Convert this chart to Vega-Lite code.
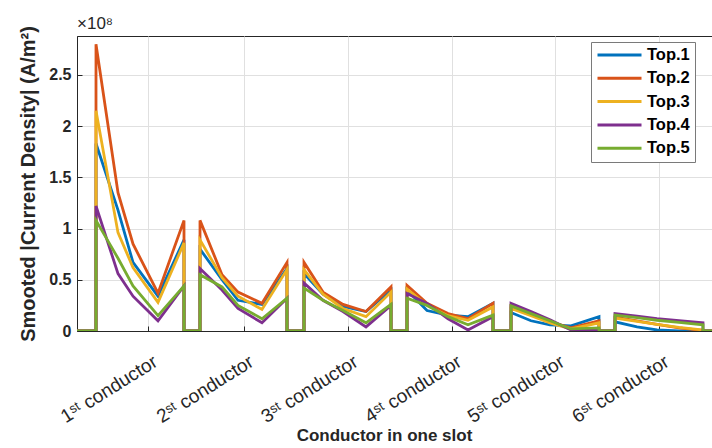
{
  "$schema": "https://vega.github.io/schema/vega-lite/v6.json",
  "width": 635,
  "height": 295,
  "autosize": {"type": "none"},
  "padding": {"left": 77, "top": 36, "right": 0, "bottom": 117},
  "background": "white",
  "title": {"text": "×10⁸", "anchor": "start", "frame": "group", "fontSize": 17, "fontWeight": "normal", "color": "#262626", "offset": -10, "font": "Liberation Sans"},
  "config": {
    "font": "Liberation Sans",
    "view": {"stroke": "#262626", "strokeWidth": 1},
    "axis": {"gridColor": "#e0e0e0", "gridWidth": 1, "domainColor": "#262626", "tickColor": "#262626", "labelColor": "#262626", "titleColor": "#262626"}
  },
  "data": {"values": [
    {"s":"Top.1","x":0,"v":0},
    {"s":"Top.1","x":19,"v":0},{"s":"Top.1","x":19,"v":1.83},{"s":"Top.1","x":41,"v":1.18},{"s":"Top.1","x":56,"v":0.67},{"s":"Top.1","x":81,"v":0.34},{"s":"Top.1","x":107,"v":0.89},{"s":"Top.1","x":107,"v":0},
    {"s":"Top.1","x":123,"v":0},{"s":"Top.1","x":123,"v":0.80},{"s":"Top.1","x":145,"v":0.50},{"s":"Top.1","x":161,"v":0.30},{"s":"Top.1","x":185,"v":0.26},{"s":"Top.1","x":210,"v":0.61},{"s":"Top.1","x":210,"v":0},
    {"s":"Top.1","x":227,"v":0},{"s":"Top.1","x":227,"v":0.56},{"s":"Top.1","x":246,"v":0.36},{"s":"Top.1","x":266,"v":0.24},{"s":"Top.1","x":289,"v":0.19},{"s":"Top.1","x":314,"v":0.40},{"s":"Top.1","x":314,"v":0},
    {"s":"Top.1","x":330,"v":0},{"s":"Top.1","x":330,"v":0.40},{"s":"Top.1","x":350,"v":0.20},{"s":"Top.1","x":371,"v":0.155},{"s":"Top.1","x":391,"v":0.14},{"s":"Top.1","x":416,"v":0.27},{"s":"Top.1","x":416,"v":0},
    {"s":"Top.1","x":434,"v":0},{"s":"Top.1","x":434,"v":0.18},{"s":"Top.1","x":454,"v":0.10},{"s":"Top.1","x":473,"v":0.06},{"s":"Top.1","x":494,"v":0.05},{"s":"Top.1","x":522,"v":0.14},{"s":"Top.1","x":522,"v":0},
    {"s":"Top.1","x":538,"v":0},{"s":"Top.1","x":538,"v":0.09},{"s":"Top.1","x":560,"v":0.04},{"s":"Top.1","x":580,"v":0.01},{"s":"Top.1","x":602,"v":0.0},{"s":"Top.1","x":626,"v":0.0},{"s":"Top.1","x":626,"v":0},
    {"s":"Top.1","x":635,"v":0},

    {"s":"Top.2","x":0,"v":0},
    {"s":"Top.2","x":19,"v":0},{"s":"Top.2","x":19,"v":2.80},{"s":"Top.2","x":41,"v":1.35},{"s":"Top.2","x":56,"v":0.85},{"s":"Top.2","x":81,"v":0.37},{"s":"Top.2","x":107,"v":1.08},{"s":"Top.2","x":107,"v":0},
    {"s":"Top.2","x":123,"v":0},{"s":"Top.2","x":123,"v":1.08},{"s":"Top.2","x":145,"v":0.55},{"s":"Top.2","x":161,"v":0.38},{"s":"Top.2","x":185,"v":0.27},{"s":"Top.2","x":210,"v":0.67},{"s":"Top.2","x":210,"v":0},
    {"s":"Top.2","x":227,"v":0},{"s":"Top.2","x":227,"v":0.67},{"s":"Top.2","x":246,"v":0.38},{"s":"Top.2","x":266,"v":0.26},{"s":"Top.2","x":289,"v":0.19},{"s":"Top.2","x":314,"v":0.43},{"s":"Top.2","x":314,"v":0},
    {"s":"Top.2","x":330,"v":0},{"s":"Top.2","x":330,"v":0.445},{"s":"Top.2","x":350,"v":0.27},{"s":"Top.2","x":371,"v":0.17},{"s":"Top.2","x":391,"v":0.12},{"s":"Top.2","x":416,"v":0.27},{"s":"Top.2","x":416,"v":0},
    {"s":"Top.2","x":434,"v":0},{"s":"Top.2","x":434,"v":0.24},{"s":"Top.2","x":454,"v":0.16},{"s":"Top.2","x":473,"v":0.09},{"s":"Top.2","x":494,"v":0.03},{"s":"Top.2","x":522,"v":0.10},{"s":"Top.2","x":522,"v":0},
    {"s":"Top.2","x":538,"v":0},{"s":"Top.2","x":538,"v":0.135},{"s":"Top.2","x":560,"v":0.10},{"s":"Top.2","x":580,"v":0.065},{"s":"Top.2","x":602,"v":0.03},{"s":"Top.2","x":626,"v":0.005},{"s":"Top.2","x":626,"v":0},
    {"s":"Top.2","x":635,"v":0},

    {"s":"Top.3","x":0,"v":0},
    {"s":"Top.3","x":19,"v":0},{"s":"Top.3","x":19,"v":2.15},{"s":"Top.3","x":41,"v":0.96},{"s":"Top.3","x":56,"v":0.62},{"s":"Top.3","x":81,"v":0.28},{"s":"Top.3","x":107,"v":0.86},{"s":"Top.3","x":107,"v":0},
    {"s":"Top.3","x":123,"v":0},{"s":"Top.3","x":123,"v":0.89},{"s":"Top.3","x":145,"v":0.52},{"s":"Top.3","x":161,"v":0.34},{"s":"Top.3","x":185,"v":0.21},{"s":"Top.3","x":210,"v":0.60},{"s":"Top.3","x":210,"v":0},
    {"s":"Top.3","x":227,"v":0},{"s":"Top.3","x":227,"v":0.60},{"s":"Top.3","x":246,"v":0.36},{"s":"Top.3","x":266,"v":0.22},{"s":"Top.3","x":289,"v":0.14},{"s":"Top.3","x":314,"v":0.38},{"s":"Top.3","x":314,"v":0},
    {"s":"Top.3","x":330,"v":0},{"s":"Top.3","x":330,"v":0.41},{"s":"Top.3","x":350,"v":0.25},{"s":"Top.3","x":371,"v":0.15},{"s":"Top.3","x":391,"v":0.105},{"s":"Top.3","x":416,"v":0.235},{"s":"Top.3","x":416,"v":0},
    {"s":"Top.3","x":434,"v":0},{"s":"Top.3","x":434,"v":0.22},{"s":"Top.3","x":454,"v":0.15},{"s":"Top.3","x":473,"v":0.08},{"s":"Top.3","x":494,"v":0.02},{"s":"Top.3","x":522,"v":0.08},{"s":"Top.3","x":522,"v":0},
    {"s":"Top.3","x":538,"v":0},{"s":"Top.3","x":538,"v":0.125},{"s":"Top.3","x":560,"v":0.095},{"s":"Top.3","x":580,"v":0.065},{"s":"Top.3","x":602,"v":0.035},{"s":"Top.3","x":626,"v":0.01},{"s":"Top.3","x":626,"v":0},
    {"s":"Top.3","x":635,"v":0},

    {"s":"Top.4","x":0,"v":0},
    {"s":"Top.4","x":19,"v":0},{"s":"Top.4","x":19,"v":1.22},{"s":"Top.4","x":41,"v":0.56},{"s":"Top.4","x":56,"v":0.34},{"s":"Top.4","x":81,"v":0.10},{"s":"Top.4","x":107,"v":0.44},{"s":"Top.4","x":107,"v":0},
    {"s":"Top.4","x":123,"v":0},{"s":"Top.4","x":123,"v":0.61},{"s":"Top.4","x":145,"v":0.40},{"s":"Top.4","x":161,"v":0.22},{"s":"Top.4","x":185,"v":0.08},{"s":"Top.4","x":210,"v":0.32},{"s":"Top.4","x":210,"v":0},
    {"s":"Top.4","x":227,"v":0},{"s":"Top.4","x":227,"v":0.47},{"s":"Top.4","x":246,"v":0.30},{"s":"Top.4","x":266,"v":0.19},{"s":"Top.4","x":289,"v":0.04},{"s":"Top.4","x":314,"v":0.25},{"s":"Top.4","x":314,"v":0},
    {"s":"Top.4","x":330,"v":0},{"s":"Top.4","x":330,"v":0.365},{"s":"Top.4","x":350,"v":0.27},{"s":"Top.4","x":371,"v":0.12},{"s":"Top.4","x":391,"v":0.01},{"s":"Top.4","x":416,"v":0.14},{"s":"Top.4","x":416,"v":0},
    {"s":"Top.4","x":434,"v":0},{"s":"Top.4","x":434,"v":0.27},{"s":"Top.4","x":454,"v":0.19},{"s":"Top.4","x":473,"v":0.11},{"s":"Top.4","x":494,"v":0.01},{"s":"Top.4","x":522,"v":0.01},{"s":"Top.4","x":522,"v":0},
    {"s":"Top.4","x":538,"v":0},{"s":"Top.4","x":538,"v":0.17},{"s":"Top.4","x":560,"v":0.145},{"s":"Top.4","x":580,"v":0.12},{"s":"Top.4","x":602,"v":0.10},{"s":"Top.4","x":626,"v":0.08},{"s":"Top.4","x":626,"v":0},
    {"s":"Top.4","x":635,"v":0},

    {"s":"Top.5","x":0,"v":0},
    {"s":"Top.5","x":19,"v":0},{"s":"Top.5","x":19,"v":1.08},{"s":"Top.5","x":41,"v":0.71},{"s":"Top.5","x":56,"v":0.44},{"s":"Top.5","x":81,"v":0.15},{"s":"Top.5","x":107,"v":0.44},{"s":"Top.5","x":107,"v":0},
    {"s":"Top.5","x":123,"v":0},{"s":"Top.5","x":123,"v":0.55},{"s":"Top.5","x":145,"v":0.43},{"s":"Top.5","x":161,"v":0.25},{"s":"Top.5","x":185,"v":0.12},{"s":"Top.5","x":210,"v":0.32},{"s":"Top.5","x":210,"v":0},
    {"s":"Top.5","x":227,"v":0},{"s":"Top.5","x":227,"v":0.42},{"s":"Top.5","x":246,"v":0.30},{"s":"Top.5","x":266,"v":0.20},{"s":"Top.5","x":289,"v":0.08},{"s":"Top.5","x":314,"v":0.26},{"s":"Top.5","x":314,"v":0},
    {"s":"Top.5","x":330,"v":0},{"s":"Top.5","x":330,"v":0.32},{"s":"Top.5","x":350,"v":0.25},{"s":"Top.5","x":371,"v":0.14},{"s":"Top.5","x":391,"v":0.06},{"s":"Top.5","x":416,"v":0.155},{"s":"Top.5","x":416,"v":0},
    {"s":"Top.5","x":434,"v":0},{"s":"Top.5","x":434,"v":0.245},{"s":"Top.5","x":454,"v":0.17},{"s":"Top.5","x":473,"v":0.10},{"s":"Top.5","x":494,"v":0.02},{"s":"Top.5","x":522,"v":0.03},{"s":"Top.5","x":522,"v":0},
    {"s":"Top.5","x":538,"v":0},{"s":"Top.5","x":538,"v":0.155},{"s":"Top.5","x":560,"v":0.13},{"s":"Top.5","x":580,"v":0.105},{"s":"Top.5","x":602,"v":0.085},{"s":"Top.5","x":626,"v":0.06},{"s":"Top.5","x":626,"v":0},
    {"s":"Top.5","x":635,"v":0}
  ]},
  "mark": {"type": "line", "strokeWidth": 2.8, "strokeJoin": "miter", "clip": true},
  "encoding": {
    "x": {
      "field": "x", "type": "quantitative",
      "scale": {"domain": [0, 635], "nice": false, "zero": false},
      "axis": {
        "title": "Conductor in one slot",
        "titleFontSize": 17, "titleFontWeight": "bold", "titlePadding": 1,
        "titleX": 307, "titleAlign": "center",
        "values": [70.5, 166.5, 271, 374.5, 477.5, 582],
        "labelExpr": "datum.value < 100 ? '1ˢᵗ conductor' : datum.value < 200 ? '2ˢᵗ conductor' : datum.value < 300 ? '3ˢᵗ conductor' : datum.value < 400 ? '4ˢᵗ conductor' : datum.value < 500 ? '5ˢᵗ conductor' : '6ˢᵗ conductor'",
        "labelAngle": -32, "labelAlign": "right", "labelBaseline": "top",
        "labelFontSize": 19, "labelFontWeight": "normal", "labelOffset": 3,
        "labelPadding": 26, "tickSize": -5, "labelOverlap": false, "labelBound": false, "labelFlush": false,
        "grid": true
      }
    },
    "y": {
      "field": "v", "type": "quantitative",
      "scale": {"domain": [0, 2.88], "nice": false},
      "axis": {
        "title": "Smooted |Current Density|  (A/m²)",
        "titleFontSize": 20, "titleFontWeight": "bold", "titlePadding": 10,
        "values": [0, 0.5, 1, 1.5, 2, 2.5], "format": "~g",
        "labelFontSize": 16, "labelFontWeight": "bold",
        "tickSize": -5, "labelPadding": 11,
        "grid": true
      }
    },
    "color": {
      "field": "s", "type": "nominal",
      "scale": {"domain": ["Top.1", "Top.2", "Top.3", "Top.4", "Top.5"], "range": ["#0072BD", "#D95319", "#EDB120", "#7E2F8E", "#77AC30"]},
      "legend": {
        "title": null, "orient": "none", "legendX": 514, "legendY": 6,
        "symbolType": "stroke", "symbolSize": 1936, "symbolStrokeWidth": 3,
        "clipHeight": 16,
        "labelFontSize": 16.5, "labelFontWeight": "bold", "labelColor": "#000000",
        "labelExpr": "datum.label + '  '",
        "rowPadding": 6.3, "padding": 5, "labelOffset": 4,
        "strokeColor": "#7a7a7a", "fillColor": "white"
      }
    },
    "order": {"value": null}
  }
}
